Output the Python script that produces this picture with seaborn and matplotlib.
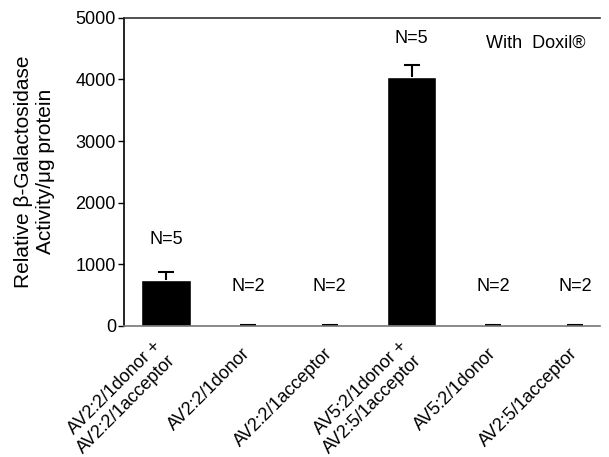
import numpy as np
import pandas as pd
import seaborn as sns
import matplotlib.pyplot as plt

# ---- data ----
groups = [
    "AV2:2/1donor +\nAV2:2/1acceptor",
    "AV2:2/1donor",
    "AV2:2/1acceptor",
    "AV5:2/1donor +\nAV2:5/1acceptor",
    "AV5:2/1donor",
    "AV2:5/1acceptor",
]
activity = [745, 12, 8, 4045, 8, 12]
sem = [130, 0, 0, 190, 0, 0]
n_labels = ["N=5", "N=2", "N=2", "N=5", "N=2", "N=2"]
n_label_y = [1396, 633, 633, 4660, 633, 633]

sns.set_style("ticks", {"text.color": "black", "axes.labelcolor": "black",
                        "xtick.color": "black", "ytick.color": "black"})
plt.rcParams["font.family"] = ["Liberation Sans", "DejaVu Sans"]

df = pd.DataFrame({"group": groups, "activity": activity})

fig = plt.figure(figsize=(6.09, 4.57), dpi=100)
ax = fig.add_axes([0.204, 0.287, 0.781, 0.674])

sns.barplot(data=df, x="group", y="activity", color="black",
            width=0.6, errorbar=None, saturation=1, ax=ax)

# one-sided (upper) error bars
x = np.arange(len(groups))
eb = ax.errorbar(x, activity, yerr=[np.zeros(len(sem)), sem], fmt="none",
                 ecolor="black", elinewidth=1.5, capsize=6, capthick=1.5)
eb[1][0].set_visible(False)

# N labels above each bar
for i, (lab, ly) in enumerate(zip(n_labels, n_label_y)):
    ax.text(i, ly, lab, ha="center", va="center", fontsize=13, color="black")

ax.text(4.52, 4580, "With  Doxil\u00ae", ha="center", va="center",
        fontsize=13, color="black")

ax.set_xlim(-0.51, 5.3)
ax.set_ylim(0, 5000)
ax.set_yticks([0, 1000, 2000, 3000, 4000, 5000])
ax.tick_params(axis="y", labelsize=13, length=4, width=1, pad=2,
               colors="black")
ax.tick_params(axis="x", length=0, labelsize=13, pad=18, colors="black")
ax.set_xticks(x)
ax.set_xticklabels(groups, rotation=45, ha="right", va="center",
                   rotation_mode="anchor")

ax.set_xlabel("")
ax.set_ylabel("Relative \u03b2-Galactosidase\nActivity/\u03bcg protein",
              fontsize=15, labelpad=15, color="black")

for side in ["left", "top", "bottom"]:
    ax.spines[side].set_linewidth(1.2)
ax.spines["left"].set_color("black")
ax.spines["bottom"].set_color("#777777")
ax.spines["top"].set_color("#333333")
ax.spines["right"].set_visible(False)

fig.savefig("out.png", dpi=100)
